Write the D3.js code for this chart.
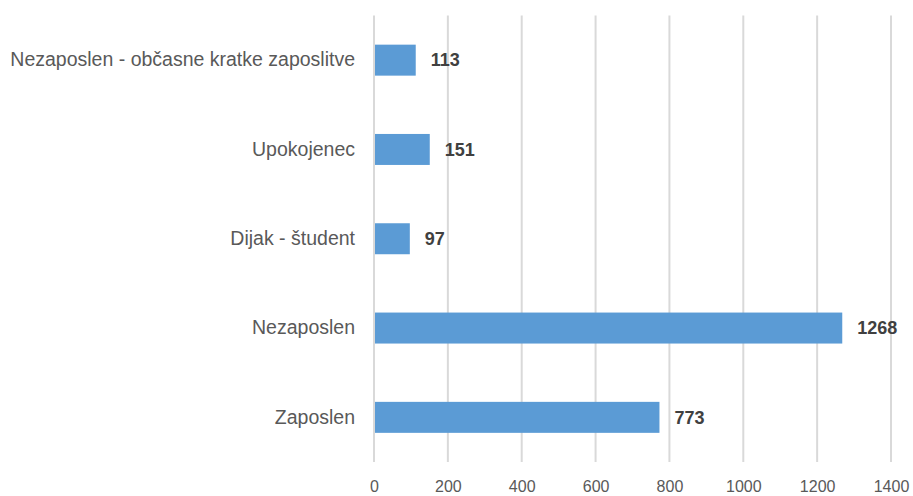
<!DOCTYPE html>
<html>
<head>
<meta charset="utf-8">
<script src="https://cdn.jsdelivr.net/npm/d3@7"></script>
<style>
  body { margin: 0; background: #fff; }
  text { font-family: "Liberation Sans Narrow", "Arial Narrow", "Liberation Sans", Arial, sans-serif; }
</style>
</head>
<body>
<div id="plot"></div>
<script>
  const w = 913;
  const h = 496;

  // data, top to bottom
  const categories = ["Nezaposlen - občasne kratke zaposlitve", "Upokojenec", "Dijak - študent", "Nezaposlen", "Zaposlen"];
  const values = [113, 151, 97, 1268, 773];
  const tickValues = [0, 200, 400, 600, 800, 1000, 1200, 1400];

  const margin = {top: 15.5, left: 374, right: 22, bottom: 34};

  const svg = d3.select("div#plot")
      .append("svg")
      .attr("width", w)
      .attr("height", h);

  svg.append("rect")
      .attr("width", w)
      .attr("height", h)
      .attr("fill", "#ffffff");

  const xScale = d3.scaleLinear()
      .domain([0, 1400])
      .range([margin.left, w - margin.right]);

  const yScale = d3.scaleBand()
      .domain(categories)
      .range([margin.top, h - margin.bottom])
      .paddingInner(0.653)
      .paddingOuter(0.3265);

  // gridlines
  svg.append("g")
      .selectAll("line")
      .data(tickValues)
      .enter().append("line")
      .attr("x1", d => xScale(d))
      .attr("x2", d => xScale(d))
      .attr("y1", margin.top)
      .attr("y2", h - margin.bottom)
      .attr("stroke", "#d9d9d9")
      .attr("stroke-width", 2);

  // bars
  svg.append("g")
      .selectAll("rect")
      .data(values)
      .enter().append("rect")
      .attr("x", xScale(0) + 1)
      .attr("y", (d, i) => yScale(categories[i]))
      .attr("width", d => xScale(d) - xScale(0) - 1)
      .attr("height", yScale.bandwidth())
      .attr("fill", "#5b9bd5");

  // value labels
  svg.append("g")
      .selectAll("text")
      .data(values)
      .enter().append("text")
      .attr("x", d => xScale(d) + 15)
      .attr("y", (d, i) => yScale(categories[i]) + yScale.bandwidth() / 2)
      .attr("dy", "0.35em")
      .style("font-size", "18px")
      .style("font-weight", "bold")
      .style("fill", "#404040")
      .text(d => d);

  // category axis
  const yAxis = d3.axisLeft(yScale).tickSize(0).tickPadding(19);
  const gy = svg.append("g")
      .attr("transform", `translate(${margin.left},0)`)
      .call(yAxis);
  gy.select(".domain").remove();
  gy.selectAll("text")
      .style("font-size", "19.5px")
      .style("fill", "#595959");

  // value axis
  const xAxis = d3.axisBottom(xScale)
      .tickValues(tickValues)
      .tickFormat(d3.format("d"))
      .tickSize(0)
      .tickPadding(19);
  const gx = svg.append("g")
      .attr("transform", `translate(0,${h - margin.bottom})`)
      .call(xAxis);
  gx.select(".domain").remove();
  gx.selectAll("text")
      .style("font-size", "16px")
      .style("fill", "#595959");
</script>
</body>
</html>
